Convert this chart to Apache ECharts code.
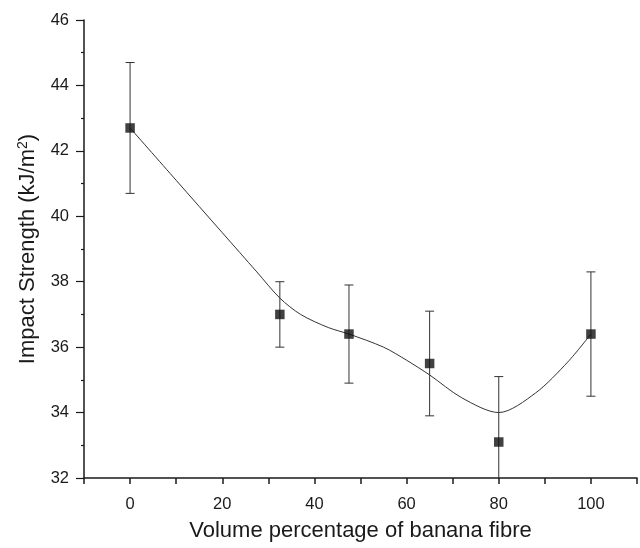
<!DOCTYPE html>
<html>
<head>
<meta charset="utf-8">
<script src="https://cdn.jsdelivr.net/npm/echarts@6/dist/echarts.min.js"></script>
<style>html,body{margin:0;padding:0;background:#fff}#c{width:640px;height:548px}</style>
</head>
<body>
<div id="c"></div>
<script>
const xValues = [0, 32.5, 47.5, 65, 80, 100];
const meanValues = [42.7, 37.0, 36.4, 35.5, 33.1, 36.4];
const errLow = [40.7, 36.0, 34.9, 33.9, 31.1, 34.5];
const errHigh = [44.7, 38.0, 37.9, 37.1, 35.1, 38.3];
const fitX = [0, 10, 20, 27.5, 32.5, 37, 43, 47.5, 55, 60, 65, 72, 80, 88, 95, 100];
const fitY = [42.7, 41.1, 39.5, 38.3, 37.5, 37.0, 36.6, 36.4, 36.0, 35.6, 35.15, 34.45, 34.0, 34.6, 35.55, 36.4];

const pts = xValues.map((x, i) => [x, meanValues[i]]);
const errData = xValues.map((x, i) => [x, errLow[i], errHigh[i]]);
const fitData = fitX.map((x, i) => [x, fitY[i]]);

const font = '"Liberation Sans", Arial, sans-serif';
const chart = echarts.init(document.getElementById('c'), null, {renderer: 'canvas'});
chart.setOption({
  animation: false,
  backgroundColor: '#fff',
  grid: {left: 84, top: 20, right: -3, bottom: 70},
  xAxis: {
    type: 'value', min: -10, max: 110, interval: 10,
    name: 'Volume percentage of banana fibre',
    nameLocation: 'middle', nameGap: 42,
    nameTextStyle: {fontFamily: font, fontSize: 22, color: '#1a1a1a'},
    axisLine: {show: true, onZero: false, lineStyle: {color: '#1a1a1a', width: 1.5}},
    axisTick: {show: true, inside: false, length: 6, lineStyle: {color: '#1a1a1a', width: 1.5}},
    axisLabel: {
      fontFamily: font, fontSize: 16.5, color: '#1a1a1a', margin: 18,
      formatter: v => (v % 20 === 0 && v >= 0 && v <= 100) ? String(v) : ''
    },
    splitLine: {show: false}
  },
  yAxis: {
    type: 'value', min: 32, max: 46, interval: 2,
    name: 'Impact Strength (kJ/m{sup|2})',
    nameLocation: 'middle', nameGap: 44, nameRotate: 90,
    nameTextStyle: {
      fontFamily: font, fontSize: 22, color: '#1a1a1a',
      rich: {sup: {fontFamily: font, fontSize: 14, color: '#1a1a1a', verticalAlign: 'top', padding: [0, 0, 10, 0]}}
    },
    axisLine: {show: true, onZero: false, lineStyle: {color: '#1a1a1a', width: 1.5}},
    axisTick: {show: true, inside: false, length: 8, lineStyle: {color: '#1a1a1a', width: 1.2}},
    minorTick: {show: true, splitNumber: 2, length: 3, lineStyle: {color: '#1a1a1a', width: 1.2}},
    axisLabel: {fontFamily: font, fontSize: 16.5, color: '#1a1a1a', margin: 15},
    splitLine: {show: false}
  },
  series: [
    {
      type: 'line', data: fitData, smooth: 0.3, showSymbol: false, symbol: 'none',
      lineStyle: {color: '#333', width: 1}, z: 2
    },
    {
      type: 'custom', data: errData, clip: true, z: 3,
      renderItem: function (params, api) {
        const x = api.value(0);
        const lo = api.coord([x, api.value(1)]);
        const hi = api.coord([x, api.value(2)]);
        const hw = 4.5;
        const st = {stroke: '#333', lineWidth: 1};
        return {
          type: 'group',
          children: [
            {type: 'line', shape: {x1: lo[0], y1: lo[1], x2: hi[0], y2: hi[1]}, style: st},
            {type: 'line', shape: {x1: hi[0] - hw, y1: hi[1], x2: hi[0] + hw, y2: hi[1]}, style: st},
            {type: 'line', shape: {x1: lo[0] - hw, y1: lo[1], x2: lo[0] + hw, y2: lo[1]}, style: st}
          ]
        };
      }
    },
    {
      type: 'scatter', data: pts, symbol: 'rect', symbolSize: 9.5,
      itemStyle: {color: '#111'}, z: 4
    }
  ]
});
</script>
</body>
</html>
